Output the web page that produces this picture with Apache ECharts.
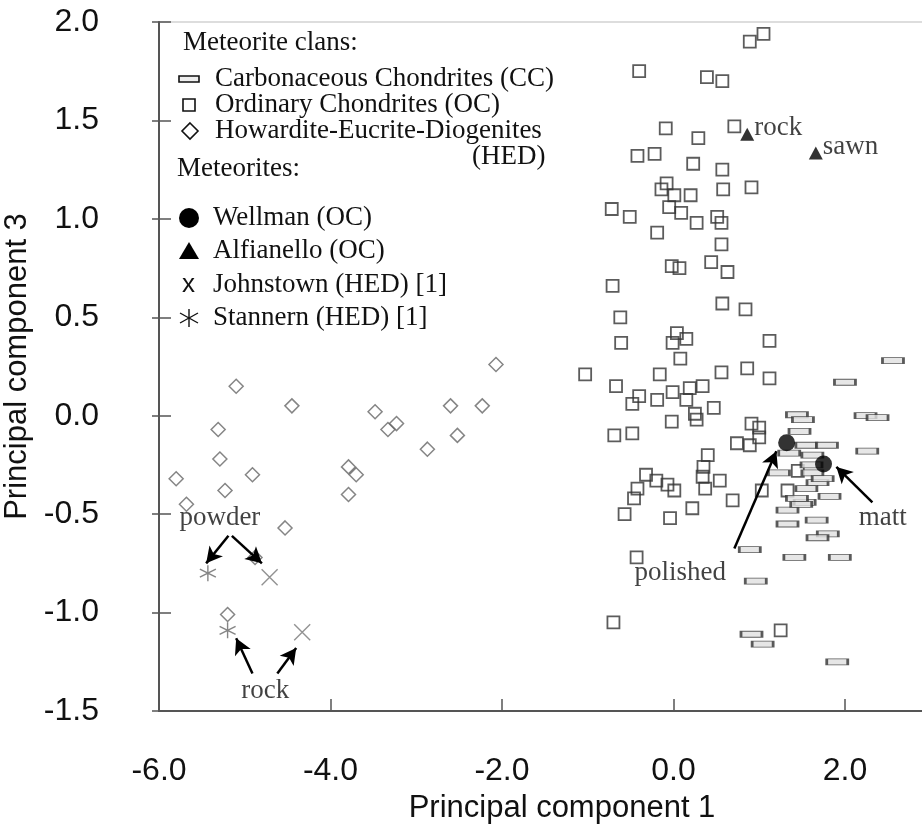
<!DOCTYPE html>
<html><head><meta charset="utf-8">
<script src="https://cdn.jsdelivr.net/npm/echarts@6/dist/echarts.min.js"></script>
<style>html,body{margin:0;padding:0;background:#fff}#c{width:922px;height:829px}</style>
</head><body><div id="c"></div><script>
// ---- data (PC1, PC3) ----
const ocPoints = [
[-0.40,1.75],[0.39,1.72],[0.57,1.70],[0.89,1.90],[1.05,1.94],[0.71,1.47],[-0.09,1.46],[0.29,1.41],
[-0.42,1.32],[-0.22,1.33],[0.23,1.28],[0.57,1.25],[0.58,1.15],[0.91,1.16],[-0.08,1.18],[-0.14,1.15],
[0.01,1.12],[0.20,1.12],[-0.72,1.05],[-0.51,1.01],[-0.05,1.06],[0.09,1.03],[0.27,0.98],[0.51,1.01],
[0.56,0.98],[-0.19,0.93],[0.56,0.87],[-0.02,0.76],[0.07,0.75],[0.44,0.78],[0.63,0.73],[-0.71,0.66],
[0.57,0.57],[0.84,0.54],[-0.62,0.50],[-0.61,0.37],[0.04,0.42],[-0.01,0.37],[0.15,0.39],[1.12,0.38],
[0.08,0.29],[-1.03,0.21],[-0.16,0.21],[0.56,0.22],[0.86,0.24],[1.12,0.19],[-0.67,0.15],[-0.40,0.10],
[-0.48,0.06],[-0.19,0.08],[-0.01,0.12],[0.19,0.14],[0.34,0.15],[0.15,0.08],[0.25,0.01],[0.47,0.04],
[-0.02,-0.03],[0.27,-0.02],[-0.69,-0.10],[-0.48,-0.09],[0.91,-0.04],[1.00,-0.06],[0.74,-0.14],[1.00,-0.11],
[0.89,-0.15],[0.40,-0.20],[0.35,-0.26],[-0.32,-0.30],[-0.20,-0.33],[-0.07,-0.35],[0.01,-0.38],[-0.42,-0.37],
[-0.46,-0.42],[-0.57,-0.50],[0.34,-0.31],[0.37,-0.37],[0.54,-0.33],[0.22,-0.47],[-0.04,-0.52],[0.69,-0.43],
[1.03,-0.38],[1.45,-0.28],[1.33,-0.38],[-0.43,-0.72],[-0.70,-1.05],[1.25,-1.09]
];
const ccPoints = [
[2.56,0.28],[2.00,0.17],[1.44,0.005],[1.51,-0.02],[2.24,0.00],[2.38,-0.01],[2.26,-0.18],[1.55,-0.15],
[1.79,-0.15],[1.35,-0.19],[1.62,-0.20],[1.23,-0.29],[1.62,-0.29],[1.68,-0.34],[1.55,-0.37],[1.82,-0.41],
[1.53,-0.44],[1.33,-0.48],[1.33,-0.55],[1.67,-0.53],[1.80,-0.60],[1.68,-0.62],[0.89,-0.68],[1.41,-0.72],
[1.94,-0.72],[0.96,-0.84],[0.91,-1.11],[1.04,-1.16],[1.91,-1.25],[1.49,-0.45],[1.44,-0.42],[1.47,-0.08],
[1.74,-0.32],[1.61,-0.25]
];
const hedPoints = [
[-5.80,-0.32],[-5.68,-0.45],[-5.31,-0.07],[-5.29,-0.22],[-5.23,-0.38],[-5.10,0.15],[-4.91,-0.30],[-4.45,0.05],
[-4.53,-0.57],[-4.88,-0.72],[-5.20,-1.01],[-3.79,-0.26],[-3.70,-0.30],[-3.79,-0.40],[-3.48,0.02],[-3.33,-0.07],
[-3.23,-0.04],[-2.87,-0.17],[-2.60,0.05],[-2.52,-0.10],[-2.23,0.05],[-2.07,0.26]
];
const wellmanPoints = [[1.32,-0.137],[1.75,-0.245]];
const wellmanNames = ['polished','matt'];
const alfianelloPoints = [[0.86,1.43],[1.66,1.335]];
const alfianelloNames = ['rock','sawn'];
const johnstownPoints = [[-4.71,-0.82],[-4.33,-1.10]];
const stannernPoints = [[-5.43,-0.80],[-5.20,-1.09]];
// annotation labels and arrows (data coords)
const noteLabels = [['powder',-5.29,-0.52],['rock',-4.76,-1.40],['polished',0.08,-0.80],['matt',2.44,-0.52]];
const noteArrows = [
[-5.19,-0.61,-5.45,-0.75],[-5.15,-0.61,-4.80,-0.75],
[-4.91,-1.31,-5.10,-1.13],[-4.62,-1.31,-4.40,-1.18],
[0.71,-0.675,1.20,-0.18],[2.32,-0.44,1.90,-0.26]
];
const xTicks = {min:-6, max:3.4, interval:2};
const yTicks = {min:-1.5, max:2.0, interval:0.5};
const xName = 'Principal component 1';
const yName = 'Principal component 3';
const legendClans = ['Carbonaceous Chondrites (CC)','Ordinary Chondrites (OC)','Howardite-Eucrite-Diogenites','(HED)'];
const legendMets = ['Wellman (OC)','Alfianello (OC)','Johnstown (HED) [1]','Stannern (HED) [1]'];

const SERIF = '"Liberation Serif","DejaVu Serif",serif';
const SANS = '"Liberation Sans",Arial,sans-serif';
const chart = echarts.init(document.getElementById('c'), null, {renderer:'canvas'});

const axisLineStyle = {color:'#555', width:2};
function legendText(t,x,y){return {type:'text', x:x, y:y, style:{text:t, font:'27px '+SERIF, fill:'#111', verticalAlign:'middle'}};}

const L = {clans:43, cc:79, oc:105, hed:131, hed2:157, mets:169, wel:218, alf:251, joh:285, sta:318};
const graphics = [
  legendText('Meteorite clans:',183,L.clans),
  {type:'rect', shape:{x:179,y:L.cc-3,width:20,height:6}, style:{fill:'#eee',stroke:'#111',lineWidth:1.6}},
  legendText(legendClans[0],215,L.cc),
  {type:'rect', shape:{x:183,y:L.oc-6,width:12,height:12}, style:{fill:'none',stroke:'#111',lineWidth:1.6}},
  legendText(legendClans[1],215,L.oc),
  {type:'polygon', shape:{points:[[190,L.hed-8],[198,L.hed],[190,L.hed+8],[182,L.hed]]}, style:{fill:'none',stroke:'#111',lineWidth:1.6}},
  legendText(legendClans[2],215,L.hed),
  legendText(legendClans[3],472,L.hed2),
  legendText('Meteorites:',177,L.mets),
  {type:'circle', shape:{cx:189,cy:L.wel,r:10}, style:{fill:'#000'}},
  legendText(legendMets[0],213,L.wel),
  {type:'polygon', shape:{points:[[179,L.alf+8],[199,L.alf+8],[189,L.alf-9]]}, style:{fill:'#000'}},
  legendText(legendMets[1],213,L.alf),
  {type:'text', x:182, y:L.joh, style:{text:'x', font:'26px '+SANS, fill:'#111', verticalAlign:'middle'}},
  legendText(legendMets[2],213,L.joh),
  {type:'polyline', shape:{points:[[189,L.sta-9],[189,L.sta+9]]}, style:{stroke:'#111',lineWidth:1.4}},
  {type:'polyline', shape:{points:[[180,L.sta-5],[198,L.sta+5]]}, style:{stroke:'#111',lineWidth:1.4}},
  {type:'polyline', shape:{points:[[180,L.sta+5],[198,L.sta-5]]}, style:{stroke:'#111',lineWidth:1.4}},
  legendText(legendMets[3],213,L.sta)
];

const option = {
  animation:false,
  backgroundColor:'#fff',
  grid:{left:159, top:22, width:806, height:689, containLabel:false, outerBoundsMode:'none',
        show:true, borderColor:'#ddd', borderWidth:2, backgroundColor:'transparent'},
  xAxis:{type:'value', min:xTicks.min, max:xTicks.max, interval:xTicks.interval,
    name:xName, nameLocation:'middle', nameGap:82,
    nameTextStyle:{fontFamily:SANS, fontSize:31, color:'#111'},
    axisLine:{onZero:false, lineStyle:axisLineStyle}, axisTick:{inside:true,length:12,lineStyle:{color:'#555',width:1.5}},
    axisLabel:{formatter:v=>v.toFixed(1), fontFamily:SANS, fontSize:32, color:'#111', margin:44, showMaxLabel:false},
    splitLine:{show:false}},
  yAxis:[{type:'value', min:yTicks.min, max:yTicks.max, interval:yTicks.interval,
    name:yName, nameLocation:'middle', nameGap:125,
    nameTextStyle:{fontFamily:SANS, fontSize:31, color:'#111'},
    axisLine:{onZero:false, lineStyle:axisLineStyle}, axisTick:{inside:true,length:12,lineStyle:{color:'#555',width:1.5}},
    axisLabel:{formatter:v=>v.toFixed(1), fontFamily:SANS, fontSize:32, color:'#111', margin:60},
    splitLine:{show:false}},
   {type:'value', position:'left', min:yTicks.min, max:yTicks.max, interval:yTicks.interval,
    axisLine:{show:false, onZero:false}, axisTick:{inside:false,length:7,lineStyle:{color:'#555',width:1.5}},
    axisLabel:{show:false}, splitLine:{show:false}}],
  graphic:graphics,
  series:[
    {name:'HED', type:'scatter', data:hedPoints, symbol:'diamond', symbolSize:14,
     itemStyle:{color:'rgba(0,0,0,0)', borderColor:'#666', borderWidth:1.5}},
    {name:'OC', type:'scatter', data:ocPoints, symbol:'rect', symbolSize:12,
     itemStyle:{color:'rgba(0,0,0,0)', borderColor:'#333', borderWidth:1.8}},
    {name:'CC', type:'scatter', data:ccPoints, symbol:'rect', symbolSize:[21,6],
     itemStyle:{color:'#e0e0e0', borderColor:'#333', borderWidth:1.5}},
    {name:'Wellman', type:'scatter', symbol:'circle', symbolSize:17,
     data:wellmanPoints.map((p,i)=>({name:wellmanNames[i], value:p})),
     itemStyle:{color:'#000'}},
    {name:'Alfianello', type:'scatter', symbol:'triangle', symbolSize:[14,13],
     data:alfianelloPoints.map((p,i)=>({name:alfianelloNames[i], value:p})),
     itemStyle:{color:'#000'},
     label:{show:true, position:'right', distance:0, offset:[0,-6], formatter:'{b}', fontFamily:SERIF, fontSize:27, color:'#111'}},
    {name:'Johnstown', type:'scatter', data:johnstownPoints, symbol:'path://M0,0L10,10M10,0L0,10', symbolSize:16,
     itemStyle:{color:'none', borderColor:'#777', borderWidth:1.4}},
    {name:'Stannern', type:'scatter', data:stannernPoints, symbol:'path://M5,0L5,10M0.7,2.5L9.3,7.5M0.7,7.5L9.3,2.5', symbolSize:16,
     itemStyle:{color:'none', borderColor:'#666', borderWidth:1.4}},
    {name:'notes', type:'scatter', symbolSize:1, itemStyle:{color:'rgba(0,0,0,0)'},
     data:noteLabels.map(n=>({name:n[0], value:[n[1],n[2]]})),
     label:{show:true, position:'inside', formatter:'{b}', fontFamily:SERIF, fontSize:27, color:'#111'},
     markLine:{silent:true, symbol:['none','arrow'], symbolSize:[13,16], animation:false,
       lineStyle:{color:'#000', width:2.5, type:'solid'}, label:{show:false},
       data:noteArrows.map(a=>[{coord:[a[0],a[1]]},{coord:[a[2],a[3]]}])}}
  ]
};
chart.setOption(option);
</script></body></html>
